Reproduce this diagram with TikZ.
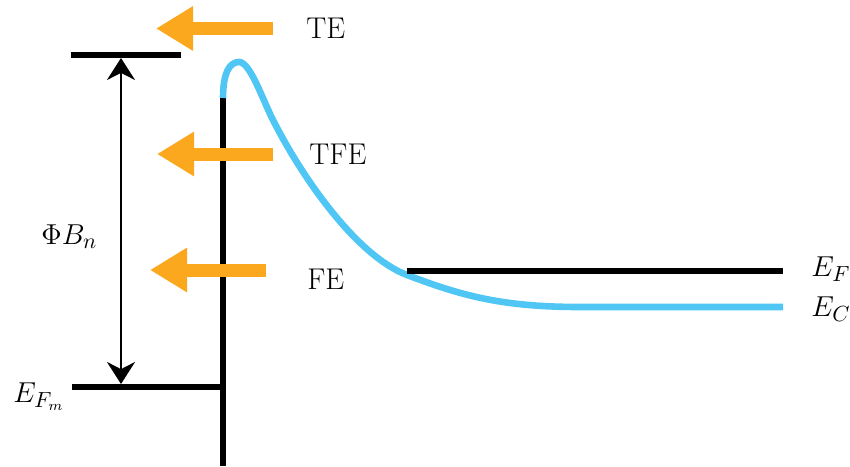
\documentclass[tikz,border=0pt]{standalone}
\usepackage{tikz}
\usetikzlibrary{arrows.meta}
\definecolor{flux}{HTML}{FCA81E}
\definecolor{band}{HTML}{4FC6F4}
\tikzset{
  level/.style={line width=3.3pt,draw=black},
  bandedge/.style={line width=3.3pt,draw=band},
  emit/.style={line width=6.5pt,draw=flux,fill=flux,-{Triangle[length=18.5pt,width=21pt]}},
  gap/.style={line width=1.2pt,{Stealth[length=11pt,width=14pt]}-{Stealth[length=11pt,width=14pt]}},
  lbl/.style={font=\fontsize{15}{18}\selectfont,inner sep=0pt},
}
\begin{document}
\begin{tikzpicture}[x=0.5pt,y=-0.5pt]
  \useasboundingbox (0,0) rectangle (850,466);
  % metal side
  \coordinate (wall-top) at (223,98);
  \coordinate (wall-bot) at (223,466);
  \draw[level] (wall-top) -- (wall-bot);
  \draw[level] (71,55) -- (181,55);
  \draw[level] (72,387) -- (223,387);
  \coordinate (gap-top) at (121,58);
  \coordinate (gap-bot) at (121,384);
  \draw[gap] (gap-top) -- (gap-bot);
  % conduction band edge
  \coordinate (peak) at (239,62);
  \coordinate (flat) at (580,307);
  \draw[bandedge] (wall-top) .. controls (223,72) and (230,62) .. (peak)
    .. controls (250,62) and (262,98) .. (272,118)
    .. controls (302,178) and (357,256) .. (407,275)
    .. controls (460,295) and (500,307) .. (flat) -- (783,307);
  \draw[level] (407,271) -- (783,271);
  % emission paths
  \coordinate (te-s) at (273,28.5);  \coordinate (te-e) at (156,28.5);
  \coordinate (tfe-s) at (273,154);  \coordinate (tfe-e) at (157,154);
  \coordinate (fe-s) at (266,270);   \coordinate (fe-e) at (150,270);
  \draw[emit] (te-s) -- (te-e);
  \draw[emit] (tfe-s) -- (tfe-e);
  \draw[emit] (fe-s) -- (fe-e);
  \node[lbl,anchor=west] (te) at (306,28.5) {TE};
  \node[lbl,anchor=west] (tfe) at (309,154) {TFE};
  \node[lbl,anchor=west] (fe) at (307,279) {FE};
  % levels
  \node[lbl,anchor=base west] (phib) at (41,244) {$\Phi B_n$};
  \node[lbl,anchor=base west] (efm) at (13,402) {$E_{F_m}$};
  \node[lbl,anchor=base west] (ef) at (811,276) {$E_F$};
  \node[lbl,anchor=base west] (ec) at (811,316) {$E_C$};
\end{tikzpicture}
\end{document}
